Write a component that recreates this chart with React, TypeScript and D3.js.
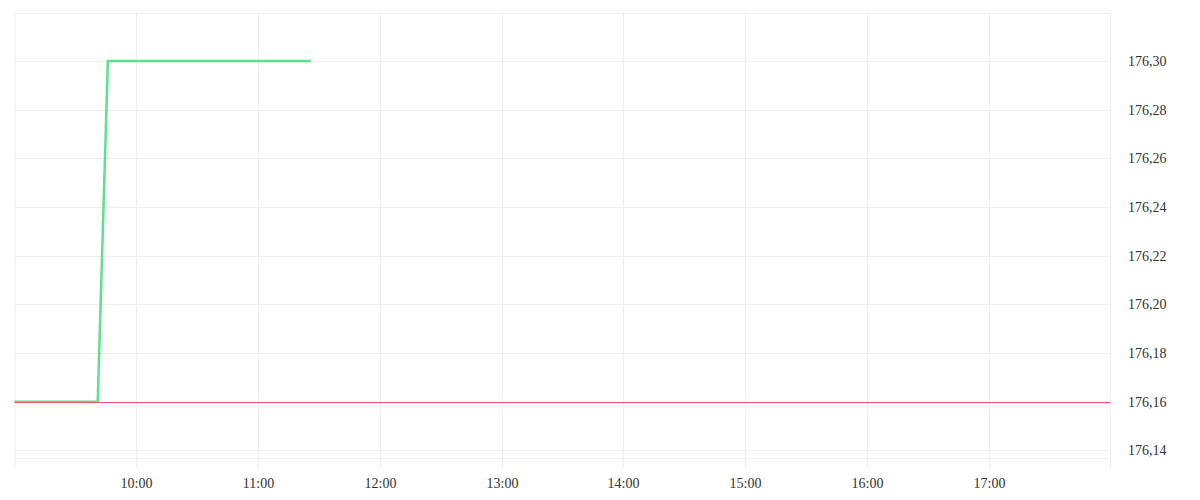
import React from "react";
import * as d3 from "d3";

const times = ["09:00", "09:41", "09:46", "11:26"];
const prices = [176.16, 176.16, 176.3, 176.3];
const previousClose = 176.16;
const yTicks = [176.14, 176.16, 176.18, 176.2, 176.22, 176.24, 176.26, 176.28, 176.3];
const xTicks = ["10:00", "11:00", "12:00", "13:00", "14:00", "15:00", "16:00", "17:00"];

const parse = d3.timeParse("%H:%M");

const App = () => {
  const left = 14.5;
  const right = 1110.5;
  const top = 13;
  const bottom = 458;

  const x = d3
    .scaleTime()
    .domain([parse("09:00") as Date, parse("18:00") as Date])
    .range([left, right]);
  const y = d3.scaleLinear().domain([176.14, 176.3]).range([450.3, 61]);

  const points = times.map((t, i) => ({ date: parse(t) as Date, value: prices[i] }));
  const line = d3
    .line<{ date: Date; value: number }>()
    .x((d) => x(d.date))
    .y((d) => y(d.value));

  const fmt = (v: number) => v.toFixed(2).replace(".", ",");
  const grid = "#eeeeee";
  const refY = Math.round(y(previousClose)) + 0.5;

  return (
    <svg width={1200} height={500} style={{ position: "absolute", left: 0, top: 0 }}>
      <rect x={0} y={0} width={1200} height={500} fill="#fff" />
      {/* frame */}
      <line x1={left} x2={right} y1={top + 0.5} y2={top + 0.5} stroke={grid} />
      <line x1={left} x2={right} y1={bottom + 0.5} y2={bottom + 0.5} stroke={grid} />
      <line x1={left + 0.5} x2={left + 0.5} y1={top} y2={468} stroke={grid} />
      <line x1={right} x2={right} y1={top} y2={468} stroke={grid} />
      {yTicks.map((t) => (
        <g key={t}>
          <line x1={left} x2={right} y1={Math.round(y(t)) + 0.5} y2={Math.round(y(t)) + 0.5} stroke={grid} />
          <text x={1128} y={y(t)} dy="0.35em" fontSize={14} fill="#333">
            {fmt(t)}
          </text>
        </g>
      ))}
      {xTicks.map((t) => {
        const px = Math.round(x(parse(t) as Date)) + 0.5;
        return (
          <g key={t}>
            <line x1={px} x2={px} y1={top} y2={468} stroke={grid} />
            <text x={px} y={488} textAnchor="middle" fontSize={14} fill="#333">
              {t}
            </text>
          </g>
        );
      })}
      <path d={line(points) ?? ""} fill="none" stroke="#4ade80" strokeOpacity={0.9} strokeWidth={2.5} />
      <line x1={left} x2={right} y1={refY} y2={refY} stroke="#f4515c" strokeWidth={1.2} />
    </svg>
  );
};

export default App;
